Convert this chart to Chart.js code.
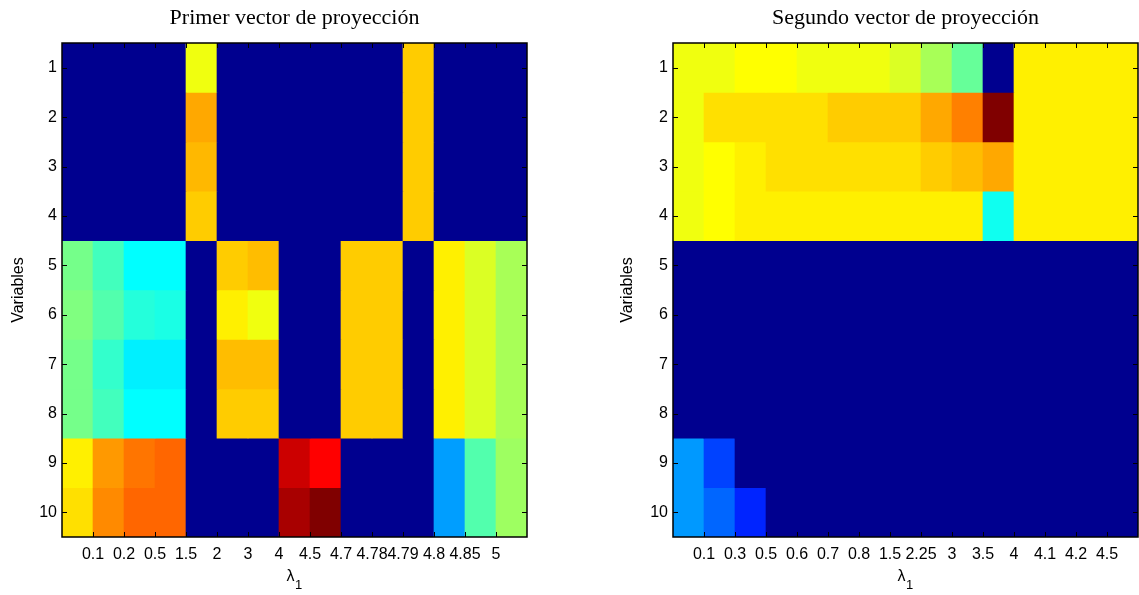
<!DOCTYPE html>
<html>
<head>
<meta charset="utf-8">
<script src="https://cdn.jsdelivr.net/npm/chart.js@4.4.0/dist/chart.umd.min.js"></script>
<style>
    body { margin: 0; background: #fff; }
    #links { position: absolute; left: 0; top: 0; }
    #rechts { position: absolute; left: 609px; top: 0; }
</style>
</head>
<body>
<canvas id="links" width="540" height="595"></canvas>
<canvas id="rechts" width="530" height="595"></canvas>
<script>
// Zeilen (Variablen) und Spaltenbeschriftungen (lambda_1)
const variablen = [1, 2, 3, 4, 5, 6, 7, 8, 9, 10];
const lambdaLinks = ['0.1', '0.2', '0.5', '1.5', '2', '3', '4', '4.5', '4.7', '4.78', '4.79', '4.8', '4.85', '5'];
const lambdaRechts = ['0.1', '0.3', '0.5', '0.6', '0.7', '0.8', '1.5', '2.25', '3', '3.5', '4', '4.1', '4.2', '4.5'];

// Werte auf der Farbskala (0 = dunkelblau, 1 = dunkelrot), je Zeile 15 Spalten
const vektor1 = [
    [0, 0, 0, 0, 0.61, 0, 0, 0, 0, 0, 0, 0.675, 0, 0, 0],
    [0, 0, 0, 0, 0.71, 0, 0, 0, 0, 0, 0, 0.675, 0, 0, 0],
    [0, 0, 0, 0, 0.695, 0, 0, 0, 0, 0, 0, 0.675, 0, 0, 0],
    [0, 0, 0, 0, 0.675, 0, 0, 0, 0, 0, 0, 0.675, 0, 0, 0],
    [0.49, 0.44, 0.375, 0.375, 0, 0.675, 0.69, 0, 0, 0.675, 0.675, 0, 0.64, 0.59, 0.54],
    [0.5, 0.455, 0.41, 0.4, 0, 0.64, 0.61, 0, 0, 0.675, 0.675, 0, 0.64, 0.59, 0.54],
    [0.49, 0.425, 0.36, 0.36, 0, 0.69, 0.69, 0, 0, 0.675, 0.675, 0, 0.64, 0.59, 0.54],
    [0.49, 0.44, 0.375, 0.375, 0, 0.675, 0.675, 0, 0, 0.675, 0.675, 0, 0.64, 0.59, 0.54],
    [0.64, 0.725, 0.76, 0.775, 0, 0, 0, 0.925, 0.875, 0, 0, 0, 0.28, 0.455, 0.53],
    [0.655, 0.74, 0.775, 0.775, 0, 0, 0, 0.96, 1, 0, 0, 0, 0.28, 0.455, 0.53]
];

const vektor2 = [
    [0.61, 0.61, 0.625, 0.625, 0.61, 0.61, 0.61, 0.59, 0.54, 0.475, 0, 0.64, 0.64, 0.64, 0.64],
    [0.61, 0.655, 0.655, 0.655, 0.655, 0.675, 0.675, 0.675, 0.71, 0.75, 1, 0.64, 0.64, 0.64, 0.64],
    [0.61, 0.625, 0.64, 0.655, 0.655, 0.655, 0.655, 0.655, 0.675, 0.69, 0.71, 0.64, 0.64, 0.64, 0.64],
    [0.61, 0.625, 0.64, 0.64, 0.64, 0.64, 0.64, 0.64, 0.64, 0.64, 0.39, 0.64, 0.64, 0.64, 0.64],
    [0, 0, 0, 0, 0, 0, 0, 0, 0, 0, 0, 0, 0, 0, 0],
    [0, 0, 0, 0, 0, 0, 0, 0, 0, 0, 0, 0, 0, 0, 0],
    [0, 0, 0, 0, 0, 0, 0, 0, 0, 0, 0, 0, 0, 0, 0],
    [0, 0, 0, 0, 0, 0, 0, 0, 0, 0, 0, 0, 0, 0, 0],
    [0.275, 0.19, 0, 0, 0, 0, 0, 0, 0, 0, 0, 0, 0, 0, 0],
    [0.275, 0.225, 0.16, 0, 0, 0, 0, 0, 0, 0, 0, 0, 0, 0, 0]
];

// MATLAB "jet" Farbskala
function jet(v) {
    const x = Math.max(v, 1 / 64);
    const c = t => Math.round(255 * Math.min(1, Math.max(0, t)));
    const r = c(Math.min(4 * x - 1.5, -4 * x + 4.5));
    const g = c(Math.min(4 * x - 0.5, -4 * x + 3.5));
    const b = c(Math.min(4 * x + 0.5, -4 * x + 2.5));
    return `rgb(${r},${g},${b})`;
}

// Rahmen, nach innen zeigende Ticks und Achsentitel lambda mit Index 1
const rahmenPlugin = {
    id: 'rahmen',
    afterDraw(chart) {
        const { ctx, chartArea: a, scales } = chart;
        ctx.save();
        ctx.strokeStyle = '#000';
        ctx.lineWidth = 1.5;
        ctx.strokeRect(a.left, a.top, a.right - a.left, a.bottom - a.top);
        ctx.lineWidth = 1;
        ctx.beginPath();
        scales.x.ticks.forEach(t => {
            const px = Math.round(scales.x.getPixelForValue(t.value)) + 0.5;
            ctx.moveTo(px, a.bottom); ctx.lineTo(px, a.bottom - 5);
            ctx.moveTo(px, a.top); ctx.lineTo(px, a.top + 5);
        });
        scales.y.ticks.forEach(t => {
            const py = Math.round(scales.y.getPixelForValue(t.value)) + 0.5;
            ctx.moveTo(a.left, py); ctx.lineTo(a.left + 5, py);
            ctx.moveTo(a.right, py); ctx.lineTo(a.right - 5, py);
        });
        ctx.stroke();

        // λ1 unter der x-Achse
        const mitte = (a.left + a.right) / 2;
        ctx.fillStyle = '#000';
        ctx.textBaseline = 'middle';
        ctx.textAlign = 'center';
        ctx.font = '16px "Liberation Sans"';
        ctx.fillText('λ', mitte - 4, 577);
        ctx.font = '13px "Liberation Sans"';
        ctx.fillText('1', mitte + 4, 585);
        ctx.restore();
    }
};

function heatmap(id, werte, lambdaLabels, titel, achsenBreite, rechtsPadding) {
    const datasets = variablen.map((zeile, i) => ({
        data: werte[i].map((w, j) => ({ x: j + 1, y: [zeile - 0.5, zeile + 0.5] })),
        backgroundColor: werte[i].map(jet),
        borderWidth: 0,
        barPercentage: 1,
        categoryPercentage: 1,
        grouped: false
    }));

    return new Chart(document.getElementById(id), {
        type: 'bar',
        data: { datasets },
        options: {
            responsive: false,
            animation: false,
            devicePixelRatio: 1,
            layout: { padding: { left: 0, right: rechtsPadding, top: 0, bottom: 0 } },
            plugins: {
                legend: { display: false },
                tooltip: { enabled: false },
                title: {
                    display: true,
                    fullSize: false,
                    text: titel,
                    color: '#000',
                    font: { family: 'Liberation Serif', size: 22, weight: 'normal' },
                    padding: { top: 5, bottom: 11.6 }
                }
            },
            scales: {
                x: {
                    type: 'linear',
                    offset: false,
                    min: 0.5,
                    max: lambdaLabels.length + 1.5,
                    grid: { display: false, drawTicks: false, offset: false },
                    border: { display: false },
                    afterBuildTicks: s => { s.ticks = lambdaLabels.map((l, k) => ({ value: k + 1.5 })); },
                    afterFit: s => { s.height = 58; },
                    ticks: {
                        autoSkip: false,
                        maxRotation: 0,
                        minRotation: 0,
                        padding: 8,
                        color: '#000',
                        font: { family: 'Liberation Sans', size: 16 },
                        callback: (v, k) => lambdaLabels[k]
                    }
                },
                y: {
                    type: 'linear',
                    reverse: true,
                    min: 0.5,
                    max: variablen.length + 0.5,
                    grid: { display: false, drawTicks: false },
                    border: { display: false },
                    afterBuildTicks: s => { s.ticks = variablen.map(v => ({ value: v })); },
                    afterFit: s => { s.width = achsenBreite; },
                    ticks: {
                        padding: 5,
                        color: '#000',
                        font: { family: 'Liberation Sans', size: 16 },
                        callback: v => String(v)
                    },
                    title: {
                        display: true,
                        text: 'Variables',
                        color: '#000',
                        font: { family: 'Liberation Sans', size: 16 },
                        padding: { top: 9, bottom: 0 }
                    }
                }
            }
        },
        plugins: [rahmenPlugin]
    });
}

heatmap('links', vektor1, lambdaLinks, 'Primer vector de proyección', 62, 13);
heatmap('rechts', vektor2, lambdaRechts, 'Segundo vector de proyección', 64, 1);
</script>
</body>
</html>
